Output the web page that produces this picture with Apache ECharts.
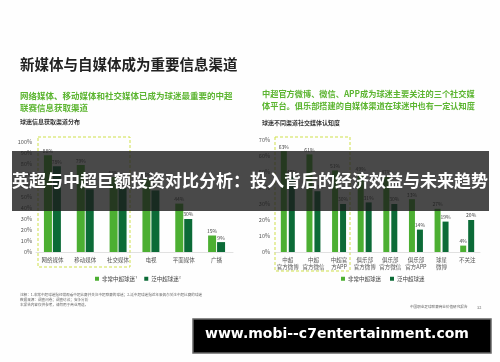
<!DOCTYPE html>
<html><head><meta charset="utf-8">
<script src="https://cdn.jsdelivr.net/npm/echarts@6/dist/echarts.min.js"></script>
<style>html,body{margin:0;padding:0;background:#fefefe}#c{width:500px;height:362px}</style>
</head><body><div id="c"></div>
<script>
var leftCategories = ['网络媒体', '移动媒体', '社交媒体', '电视', '平面媒体', '广播'];
var leftCoreFans = [88, 79, 68, 66, 44, 15];
var leftBroadFans = [78, 57, 58, 56, 30, 9];
var leftTicks = [0, 100, 10];

var rightCategories = ['中超\n官方微博', '中超\n官方微信', '中超官\n方APP', '俱乐部\n官方微博', '俱乐部\n官方微信', '俱乐部\n官方APP', '球星\n微博', '不关注'];
var rightCoreFans = [63, 61, 51, 49, 47, 33, 27, 4];
var rightBroadFans = [47, 38, 30, 31, 30, 14, 19, 20];
var rightTicks = [0, 70, 10];

var seriesNames = ['非常中超球迷', '泛中超球迷'];
var colors = ['#4caf32', '#0c6b37'];
var F = '"Noto Sans CJK SC", "Noto Sans", sans-serif';

var chart = echarts.init(document.getElementById('c'));
var axisLbl = {fontSize: 5.5, color: '#555', fontFamily: F};
var barLabel = {show: true, position: 'top', distance: 2, fontSize: 5, color: '#444', fontFamily: F, formatter: '{c}%'};

chart.setOption({
  animation: false,
  backgroundColor: '#fefefe',
  color: colors,
  grid: [
    {left: 36, top: 142, width: 197, height: 110},
    {left: 275, top: 140, width: 205, height: 112}
  ],
  xAxis: [
    {gridIndex: 0, type: 'category', data: leftCategories,
     axisLine: {lineStyle: {color: '#ccc', width: 0.6}}, axisTick: {show: false},
     axisLabel: Object.assign({}, axisLbl, {margin: 5, interval: 0})},
    {gridIndex: 1, type: 'category', data: rightCategories,
     axisLine: {lineStyle: {color: '#ccc', width: 0.6}}, axisTick: {show: false},
     axisLabel: Object.assign({}, axisLbl, {margin: 4, lineHeight: 7, interval: 0, hideOverlap: false})}
  ],
  yAxis: [
    {gridIndex: 0, type: 'value', min: leftTicks[0], max: leftTicks[1], interval: leftTicks[2],
     axisLine: {show: false}, axisTick: {show: false}, splitLine: {show: false},
     axisLabel: Object.assign({}, axisLbl, {formatter: '{value}%', margin: 4})},
    {gridIndex: 1, type: 'value', min: rightTicks[0], max: rightTicks[1], interval: rightTicks[2],
     axisLine: {show: false}, axisTick: {show: false}, splitLine: {show: false},
     axisLabel: Object.assign({}, axisLbl, {formatter: '{value}%', margin: 5})}
  ],
  legend: [
    {data: [seriesNames[0] + '¹', seriesNames[1] + '²'], left: 90, top: 271, icon: 'rect',
     itemWidth: 4, itemHeight: 4, itemGap: 7, textStyle: {fontSize: 5.5, color: '#444', fontFamily: F, padding: [0, 0, 0, -2]}},
    {data: seriesNames, left: 336, top: 271, icon: 'rect',
     itemWidth: 4, itemHeight: 4, itemGap: 9, textStyle: {fontSize: 5.5, color: '#444', fontFamily: F, padding: [0, 0, 0, -2]}}
  ],
  series: [
    {name: seriesNames[0] + '¹', type: 'bar', xAxisIndex: 0, yAxisIndex: 0, data: leftCoreFans,
     barWidth: 8, barGap: '12%', itemStyle: {color: colors[0]}, label: barLabel},
    {name: seriesNames[1] + '²', type: 'bar', xAxisIndex: 0, yAxisIndex: 0, data: leftBroadFans,
     barWidth: 8, barGap: '12%', itemStyle: {color: colors[1]}, label: barLabel},
    {name: seriesNames[0], type: 'bar', xAxisIndex: 1, yAxisIndex: 1, data: rightCoreFans,
     barWidth: 6, barGap: '33%', itemStyle: {color: colors[0]}, label: barLabel},
    {name: seriesNames[1], type: 'bar', xAxisIndex: 1, yAxisIndex: 1, data: rightBroadFans,
     barWidth: 6, barGap: '33%', itemStyle: {color: colors[1]}, label: barLabel}
  ],
  graphic: [
    {type: 'text', left: 20, top: 57, style: {text: '新媒体与自媒体成为重要信息渠道', fontSize: 14.5, fontWeight: 'bold', fill: '#222', fontFamily: F}},
    {type: 'text', left: 20, top: 90, style: {text: '网络媒体、移动媒体和社交媒体已成为球迷最重要的中超\n联赛信息获取渠道', fontSize: 8.5, lineHeight: 12, fontWeight: 'bold', fill: '#5cb531', fontFamily: F}},
    {type: 'text', left: 262, top: 88, style: {text: '中超官方微博、微信、APP成为球迷主要关注的三个社交媒\n体平台。俱乐部搭建的自媒体渠道在球迷中也有一定认知度', fontSize: 8.2, lineHeight: 12, fontWeight: 'bold', fill: '#5cb531', fontFamily: F}},
    {type: 'text', left: 20, top: 119, style: {text: '球迷信息获取渠道分布', fontSize: 6, fontWeight: 'bold', fill: '#333', fontFamily: F}},
    {type: 'text', left: 262, top: 120, style: {text: '球迷不同渠道社交媒体认知度', fontSize: 6, fontWeight: 'bold', fill: '#333', fontFamily: F}},
    {type: 'rect', shape: {x: 38, y: 137, width: 92, height: 130}, style: {fill: 'none', stroke: '#cfe04a', lineWidth: 1, lineDash: [3, 2]}},
    {type: 'rect', shape: {x: 275, y: 137, width: 75, height: 134}, style: {fill: 'none', stroke: '#cfe04a', lineWidth: 1, lineDash: [3, 2]}},
    {type: 'text', left: 20, top: 292, style: {text: '注释：1.非常中超球迷指经常观看中超比赛并关注中超联赛的球迷；2.泛中超球迷指近年来偶尔关注中超比赛的球迷\n数据来源：调查问卷；调查访谈；安永分析', fontSize: 3.6, lineHeight: 5, fill: '#666', fontFamily: F}},
    {type: 'text', left: 20, top: 303, style: {text: '本报告内容仅供参考，请勿用于商业用途。', fontSize: 3.6, fill: '#666', fontFamily: F}},
    {type: 'text', left: 410, top: 305, style: {text: '中国职业足球联赛商业价值研究报告', fontSize: 3.6, fill: '#666', fontFamily: F}},
    {type: 'text', left: 477, top: 305, style: {text: '32', fontSize: 4, fill: '#666', fontFamily: F}},
    {type: 'rect', z: 100, shape: {x: 12, y: 151, width: 477, height: 60}, style: {fill: 'rgba(28,28,28,0.8)'}},
    {type: 'text', z: 101, left: 12, top: 172, style: {text: '英超与中超巨额投资对比分析：投入背后的经济效益与未来趋势', fontSize: 17, fontWeight: 'bold', fill: '#fff', fontFamily: F}},
    {type: 'rect', z: 100, shape: {x: 193, y: 319, width: 298, height: 34}, style: {fill: '#000', stroke: '#666', lineWidth: 1.5}},
    {type: 'text', z: 101, left: 205, top: 327, style: {text: 'www.mobi--c7entertainment.com', fontSize: 14, fontWeight: 'bold', fill: '#fff', fontFamily: '"DejaVu Sans", sans-serif'}}
  ]
});
</script></body></html>
